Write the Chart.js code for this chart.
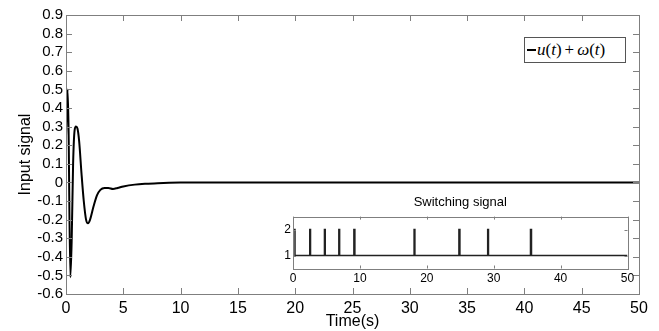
<!DOCTYPE html>
<html>
<head>
<meta charset="utf-8">
<script src="https://cdn.jsdelivr.net/npm/chart.js@4.4.0/dist/chart.umd.min.js"></script>
<style>
  html, body { margin: 0; padding: 0; background: #fff; }
  #wrap { position: relative; width: 659px; height: 331px; font-family: "Liberation Sans", Arial, sans-serif; }
  #main { position: absolute; left: 0; top: 0; }
  #inset { position: absolute; left: 250px; top: 190px; }
  #legend {
    position: absolute; left: 524px; top: 37px; width: 102px; height: 26px;
    border: 1px solid #555; background: #fff; box-sizing: border-box;
    font-family: "Liberation Serif", "DejaVu Serif", serif; font-size: 17px;
    display: flex; align-items: center; padding-left: 2px; white-space: pre;
  }
  #legend .sample { display: inline-block; width: 9px; height: 2px; background: #000; margin-right: 1px; }
  #legend .op { margin: 0 3px; }
</style>
</head>
<body>
<div id="wrap">
  <canvas id="main" width="659" height="331"></canvas>
  <canvas id="inset" width="395" height="100"></canvas>
  <div id="legend"></div>
</div>
<script>
// 主图: u(t)+w(t) 读图估计
const timeS  = [0, 0.14, 0.22, 0.38, 0.5, 0.62, 0.75, 0.87, 1.0, 1.15, 1.35, 1.55, 1.75, 1.92, 2.1, 2.4, 2.7, 3.0, 3.37, 3.7, 4.1, 4.5, 5.0, 6.0, 7.0, 8.0, 9.0, 10.0, 12.0, 50.0];
const inputU = [0.25, 0.5, 0.3, -0.51, -0.3, 0.1, 0.28, 0.3, 0.29, 0.22, 0.05, -0.1, -0.2, -0.22, -0.2, -0.13, -0.07, -0.04, -0.03, -0.03, -0.035, -0.03, -0.022, -0.012, -0.007, -0.004, -0.002, -0.001, 0, 0];
const seriesLabel = "u(t) + ω(t)";

// 切换信号 (值保持到下一个时刻)
const switchT = [0, 0.3, 2.5, 2.62, 4.7, 4.82, 6.85, 6.97, 9.1, 9.25, 18.1, 18.22, 24.8, 24.95, 29.1, 29.22, 35.5, 35.65, 50];
const switchV = [2, 1, 2, 1, 2, 1, 2, 1, 2, 1, 2, 1, 2, 1, 2, 1, 2, 1, 1];

const xTicks = [0, 5, 10, 15, 20, 25, 30, 35, 40, 45, 50];
const yTicks = [-0.6, -0.5, -0.4, -0.3, -0.2, -0.1, 0, 0.1, 0.2, 0.3, 0.4, 0.5, 0.6, 0.7, 0.8, 0.9];
const insetXTicks = [0, 10, 20, 30, 40, 50];
const insetYTicks = [1, 2];

const AXIS_GRAY = "#7f7f7f";

// matlab 风格: 方框 + 朝内的刻度
const boxTicks = {
  id: "boxTicks",
  afterDatasetsDraw(chart, args, opts) {
    const { ctx, chartArea: a, scales } = chart;
    const len = opts.length;
    ctx.save();
    ctx.strokeStyle = opts.color;
    ctx.lineWidth = 1;
    ctx.beginPath();
    scales.x.ticks.forEach(t => {
      const px = Math.round(scales.x.getPixelForValue(t.value)) + 0.5;
      ctx.moveTo(px, a.bottom); ctx.lineTo(px, a.bottom - len);
      ctx.moveTo(px, a.top);    ctx.lineTo(px, a.top + len);
    });
    scales.y.ticks.forEach(t => {
      const py = Math.round(scales.y.getPixelForValue(t.value)) + 0.5;
      ctx.moveTo(a.left, py);  ctx.lineTo(a.left + len, py);
      ctx.moveTo(a.right, py); ctx.lineTo(a.right - len, py);
    });
    ctx.stroke();
    ctx.strokeRect(Math.round(a.left) + 0.5, Math.round(a.top) + 0.5,
                   Math.round(a.width), Math.round(a.height));
    ctx.restore();
  }
};

const fmt = v => String(Math.round(v * 10) / 10);
const useTicks = arr => scale => { scale.ticks = arr.map(v => ({ value: v })); };

new Chart(document.getElementById("main"), {
  type: "line",
  data: {
    datasets: [{
      label: seriesLabel,
      data: timeS.map((t, i) => ({ x: t, y: inputU[i] })),
      borderColor: "#000",
      borderWidth: 2,
      pointRadius: 0,
      cubicInterpolationMode: "monotone",
      fill: false
    }]
  },
  options: {
    responsive: false,
    animation: false,
    devicePixelRatio: 1,
    layout: { padding: { top: 15, right: 20, left: 0, bottom: 0 } },
    plugins: {
      legend: { display: false },
      tooltip: { enabled: false },
      boxTicks: { length: 6, color: AXIS_GRAY }
    },
    scales: {
      x: {
        type: "linear", min: 0, max: 50,
        afterBuildTicks: useTicks(xTicks),
        afterFit: s => { s.height = 37; },
        grid: { display: false, drawTicks: false },
        border: { display: false },
        ticks: { color: "#000", font: { family: "Liberation Sans", size: 16 }, padding: 5, maxRotation: 0, autoSkip: false },
        title: { display: true, text: "Time(s)", color: "#000", font: { family: "Liberation Sans", size: 16 }, padding: { top: 0, bottom: 0 } }
      },
      y: {
        type: "linear", min: -0.6, max: 0.9,
        afterBuildTicks: useTicks(yTicks),
        afterFit: s => { s.width = 66; },
        grid: { display: false, drawTicks: false },
        border: { display: false },
        ticks: { color: "#000", font: { family: "Liberation Sans", size: 15 }, padding: 3, callback: fmt, autoSkip: false },
        title: { display: true, text: "Input signal", color: "#000", font: { family: "Liberation Sans", size: 16 }, padding: { top: 16, bottom: 0 } }
      }
    }
  },
  plugins: [boxTicks]
});

new Chart(document.getElementById("inset"), {
  type: "line",
  data: {
    datasets: [{
      label: "Switching signal",
      data: switchT.map((t, i) => ({ x: t, y: switchV[i] })),
      borderColor: "#222",
      borderWidth: 1.5,
      pointRadius: 0,
      stepped: true,
      fill: false
    }]
  },
  options: {
    responsive: false,
    animation: false,
    devicePixelRatio: 1,
    layout: { padding: { top: 0, right: 17.5, left: 0, bottom: 0 } },
    plugins: {
      legend: { display: false },
      tooltip: { enabled: false },
      title: {
        display: true, text: "Switching signal", fullSize: false, color: "#000",
        font: { family: "Liberation Sans", size: 13, weight: "normal" },
        padding: { top: 5, bottom: 6 }
      },
      boxTicks: { length: 3, color: AXIS_GRAY }
    },
    scales: {
      x: {
        type: "linear", min: 0, max: 50,
        afterBuildTicks: useTicks(insetXTicks),
        afterFit: s => { s.height = 21.5; },
        grid: { display: false, drawTicks: false },
        border: { display: false },
        ticks: { color: "#000", font: { family: "Liberation Sans", size: 12 }, padding: 3, maxRotation: 0, autoSkip: false }
      },
      y: {
        type: "linear", min: 0.5, max: 2.5,
        afterBuildTicks: useTicks(insetYTicks),
        afterFit: s => { s.width = 43; },
        grid: { display: false, drawTicks: false },
        border: { display: false },
        ticks: { color: "#000", font: { family: "Liberation Sans", size: 12 }, padding: 2, autoSkip: false }
      }
    }
  },
  plugins: [boxTicks]
});

// 图例: 数学体, 运算符两边留空
const legendEl = document.getElementById("legend");
legendEl.innerHTML = '<span class="sample"></span>' +
  seriesLabel.split(" + ")
    .map(s => s.replace(/([a-zω])/g, "<i>$1</i>"))
    .join('<span class="op">+</span>');
</script>
</body>
</html>
